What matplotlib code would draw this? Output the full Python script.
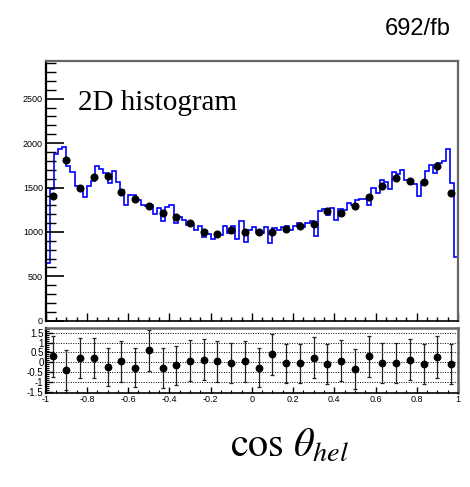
import numpy as np
import matplotlib
matplotlib.use("Agg")
import matplotlib.pyplot as plt
from matplotlib.ticker import MultipleLocator

plt.rcParams["font.family"] = ["Liberation Sans", "DejaVu Sans"]
plt.rcParams["axes.unicode_minus"] = False
plt.rcParams["mathtext.fontset"] = "stix"

# 100-bin template histogram (blue line)
hist_vals = [646, 1483, 1873, 1930, 1952, 1745, 1678, 1520, 1460, 1389,
             1517, 1577, 1738, 1705, 1660, 1547, 1689, 1558, 1472, 1303,
             1415, 1415, 1359, 1303, 1291, 1303, 1198, 1265, 1126, 1277,
             1303, 1104, 1171, 1134, 1078, 1089, 1021, 1066, 939, 973,
             920, 973, 965, 1066, 984, 1066, 916, 1126, 883, 1021,
             1051, 984, 984, 1059, 876, 1044, 1017, 1059, 1066, 1021,
             1066, 1096, 1051, 1104, 1126, 957, 1239, 1254, 1190, 1265,
             1134, 1254, 1246, 1322, 1303, 1359, 1371, 1371, 1303, 1498,
             1438, 1588, 1562, 1487, 1671, 1652, 1701, 1581, 1551, 1543,
             1401, 1562, 1689, 1753, 1659, 1772, 1802, 1930, 1554, 720]

# 30-bin data points
data_vals = [1404, 1809, 1491, 1622, 1629, 1453, 1367, 1295, 1209, 1171,
             1104, 1002, 973, 1021, 999, 1002, 1002, 1033, 1070, 1089,
             1239, 1216, 1295, 1397, 1520, 1610, 1577, 1565, 1745, 1434]

# pulls in the lower pad
pull_vals = [0.31, -0.38, 0.23, 0.23, -0.24, 0.05, -0.26, 0.61, -0.29, -0.14,
             0.09, 0.14, 0.05, -0.03, 0.05, -0.26, 0.40, -0.05, -0.05, 0.23,
             -0.07, 0.09, -0.33, 0.31, -0.03, -0.03, 0.14, -0.09, 0.26, -0.09]
pull_errs = [1.05, 1.0, 1.02, 1.02, 0.98, 1.03, 1.0, 1.05, 1.0, 0.98,
             1.03, 1.03, 1.03, 1.0, 1.03, 1.0, 1.05, 1.0, 1.0, 1.03,
             1.0, 1.03, 1.0, 1.05, 1.0, 1.0, 1.03, 1.0, 1.05, 1.0]

hist_edges = np.linspace(-1, 1, len(hist_vals) + 1)
data_edges = np.linspace(-1, 1, len(data_vals) + 1)
data_x = 0.5 * (data_edges[:-1] + data_edges[1:])

W, H = 470, 487
fig = plt.figure(figsize=(W / 100, H / 100), dpi=100)
ax = fig.add_axes([45.7 / W, 1 - 320.7 / H, 412.3 / W, 259.7 / H])
rx = fig.add_axes([45.7 / W, 1 - 393 / H, 412.3 / W, 65 / H])

FRAME = "#666666"

# top pad
ax.stairs(hist_vals, hist_edges, color="#0000ff", lw=1.2)
ax.plot(data_x, data_vals, "o", color="black", ms=4.8, zorder=3)
ax.set_xlim(-1, 1)
ax.set_ylim(0, 2925)
ax.yaxis.set_major_locator(MultipleLocator(500))
ax.yaxis.set_minor_locator(MultipleLocator(100))
ax.xaxis.set_major_locator(MultipleLocator(0.2))
ax.xaxis.set_minor_locator(MultipleLocator(0.05))
ax.tick_params(axis="y", which="major", direction="in", length=13, width=1.2,
               labelsize=6.5, pad=2, right=False)
ax.tick_params(axis="y", which="minor", direction="in", length=7, width=1.0, right=False)
ax.tick_params(axis="x", which="major", direction="in", length=5.5, width=1.0,
               labelbottom=False, top=False)
ax.tick_params(axis="x", which="minor", direction="in", length=3, width=1.0, top=False)
for s in ("top", "right"):
    ax.spines[s].set_color(FRAME)
    ax.spines[s].set_linewidth(1.6)
ax.spines["left"].set_linewidth(1.6)
ax.spines["bottom"].set_linewidth(1.2)
ax.text(0.078, 0.811, "2D histogram", transform=ax.transAxes,
        family="Liberation Serif", fontsize=21, ha="left", va="baseline")

# lower pad
for yv in np.arange(-1.0, 1.51, 0.5):
    rx.axhline(yv, color="black", lw=0.7, ls=(0, (1, 1.5)), zorder=0)
rx.errorbar(data_x, pull_vals, yerr=pull_errs, fmt="o", color="black", ms=4.6,
            elinewidth=0.9, capsize=1.5, capthick=0.9, ecolor="#222222")
rx.set_xlim(-1, 1)
rx.set_ylim(-1.55, 1.74)
rx.yaxis.set_minor_locator(MultipleLocator(0.1))
rx.xaxis.set_minor_locator(MultipleLocator(0.05))
rx.set_yticks([-1.5, -1, -0.5, 0, 0.5, 1, 1.5])
rx.set_yticklabels(["-1.5", "-1", "-0.5", "0", "0.5", "1", "1.5"])
rx.set_xticks([-1, -0.8, -0.6, -0.4, -0.2, 0, 0.2, 0.4, 0.6, 0.8, 1])
rx.set_xticklabels(["-1", "-0.8", "-0.6", "-0.4", "-0.2", "0", "0.2", "0.4", "0.6", "0.8", "1"])
rx.tick_params(axis="y", which="major", direction="in", length=5, width=1.0,
               labelsize=7, pad=1.5, right=False)
rx.tick_params(axis="y", which="minor", direction="in", length=2.5, width=0.8, right=False)
rx.tick_params(axis="x", which="major", direction="in", length=4, width=1.0,
               labelsize=6.5, pad=1.5, top=False)
rx.tick_params(axis="x", which="minor", direction="in", length=2, width=0.8, top=False)
for s in ("top", "right"):
    rx.spines[s].set_color(FRAME)
    rx.spines[s].set_linewidth(1.8)
rx.spines["left"].set_linewidth(1.6)
rx.spines["bottom"].set_linewidth(1.2)

fig.text(451 / W, 1 - 29 / H, "692/fb", fontsize=17, ha="right", va="center")
fig.text(290 / W, 1 - 446 / H, r"$\cos\,\theta_{hel}$", fontsize=29,
         ha="center", va="center")

fig.savefig("out.png", dpi=100)
